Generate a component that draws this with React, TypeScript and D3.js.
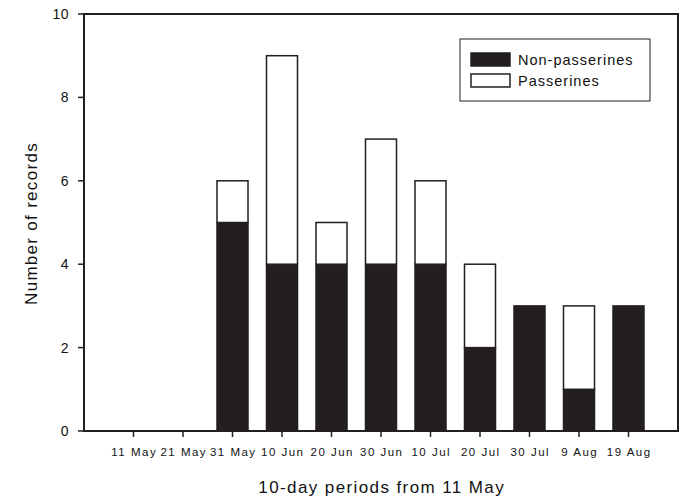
import React from "react";
import * as d3 from "d3";

const categories = ["11 May", "21 May", "31 May", "10 Jun", "20 Jun", "30 Jun", "10 Jul", "20 Jul", "30 Jul", "9 Aug", "19 Aug"];
const nonPasserines = [0, 0, 5, 4, 4, 4, 4, 2, 3, 1, 3];
const passerines = [0, 0, 1, 5, 1, 3, 2, 2, 0, 2, 0];
const yTicks = [0, 2, 4, 6, 8, 10];
const seriesNames = ["Non-passerines", "Passerines"];

export default function App() {
  const W = 683, H = 497;
  const left = 84, right = 678, top = 14, bottom = 431;
  const x = d3.scaleLinear().domain([0, categories.length + 1]).range([left, right]);
  const y = d3.scaleLinear().domain([0, 10]).range([bottom, top]);
  const barW = 31;
  const dark = "#231f20";
  const font = "'Liberation Sans', Arial, sans-serif";
  const stack = d3.stack<number>().keys(["np", "p"]).value((i, k) => (k === "np" ? nonPasserines[i] : passerines[i]));
  const series = stack(d3.range(categories.length));
  return (
    <svg width={W} height={H} style={{ position: "absolute", left: 0, top: 0 }} fontFamily={font}>
      <rect x={0} y={0} width={W} height={H} fill="#fff" />
      {series.map((s, si) =>
        s.map((d, i) => {
          if (d[1] - d[0] <= 0) return null;
          return (
            <rect key={`${si}-${i}`} x={x(i + 1) - barW / 2} y={y(d[1])} width={barW} height={y(d[0]) - y(d[1])}
              fill={si === 0 ? dark : "#fff"} stroke={dark} strokeWidth={1.5} />
          );
        })
      )}
      <rect x={left} y={top} width={right - left} height={bottom - top} fill="none" stroke={dark} strokeWidth={2} />
      {yTicks.map((t) => (
        <g key={t}>
          <line x1={left - 6} x2={left} y1={y(t)} y2={y(t)} stroke={dark} strokeWidth={1.5} />
          <text x={left - 15} y={y(t)} dy="0.35em" textAnchor="end" fontSize={14} letterSpacing={0.5} fill="#111">{t}</text>
        </g>
      ))}
      {categories.map((c, i) => (
        <g key={c}>
          <line x1={x(i + 1)} x2={x(i + 1)} y1={bottom} y2={bottom + 6} stroke={dark} strokeWidth={1.5} />
          <text x={x(i + 1) + 0.75} y={456} textAnchor="middle" fontSize={11.5} letterSpacing={1.5} fill="#111">{c}</text>
        </g>
      ))}
      <text x={(left + right) / 2 + 0.7} y={493} textAnchor="middle" fontSize={17} letterSpacing={1.4} fill="#111">10-day periods from 11 May</text>
      <text transform={`translate(37,${(top + bottom) / 2 + 1}) rotate(-90)`} textAnchor="middle" fontSize={17} letterSpacing={1.3} fill="#111">Number of records</text>
      <g>
        <rect x={460} y={39} width={190} height={62} fill="#fff" stroke={dark} strokeWidth={1} />
        {seriesNames.map((n, i) => (
          <g key={n}>
            <rect x={471} y={53 + i * 21} width={39} height={13} fill={i === 0 ? dark : "#fff"} stroke={dark} strokeWidth={1.5} />
            <text x={518} y={59.5 + i * 21} dy="0.35em" fontSize={14.5} letterSpacing={1} fill="#111">{n}</text>
          </g>
        ))}
      </g>
    </svg>
  );
}
